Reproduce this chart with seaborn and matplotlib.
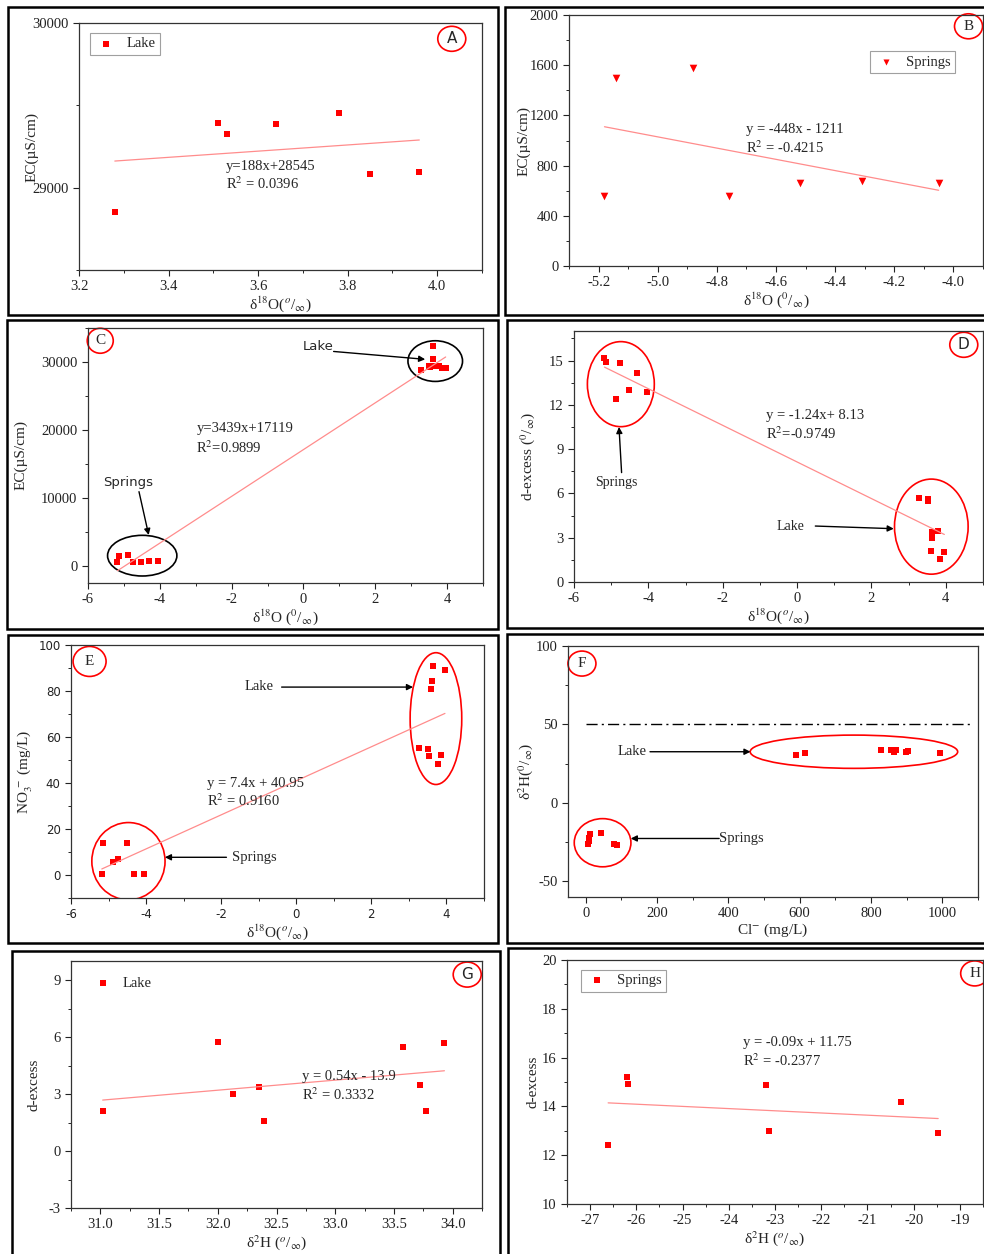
import numpy as np
import matplotlib
matplotlib.use("Agg")
import matplotlib.pyplot as plt
from matplotlib.patches import Ellipse, Rectangle
from matplotlib.ticker import MultipleLocator
import seaborn as sns

# ---- data ----
# lake samples (same order in every array)
lake_d18o = [3.28, 3.51, 3.53, 3.64, 3.78, 3.85, 3.96, 3.62, 3.60]
lake_ec = [28855, 29395, 29325, 29385, 29455, 29085, 29095, 32300, 30500]
lake_dex = [5.71, 5.65, 5.47, 3.00, 3.46, 1.58, 2.06, 3.39, 2.12]
lake_no3 = [55.4, 54.8, 51.9, 90.7, 48.4, 52.3, 89.2, 84.4, 80.7]

# springs samples
spr_d18o = [-5.18, -5.14, -4.88, -4.76, -4.52, -4.31, -4.05]
spr_ec = [555, 1498, 1578, 560, 661, 680, 664]
spr_dex = [15.2, 14.9, 12.4, 14.85, 13.0, 14.16, 12.9]
spr_no3 = [0.6, 14.1, 5.5, 6.8, 13.7, 0.6, 0.6]

# panel F: chloride vs d2H
lake_cl = [589, 616, 829, 857, 864, 871, 897, 904, 994]
lake_d2h_f = [30.7, 32.0, 33.5, 33.5, 32.2, 33.5, 32.2, 33.3, 31.8]
spr_cl = [6, 8, 10, 12, 43, 79, 88]
spr_d2h_f = [-26.1, -24.6, -22.5, -19.8, -19.5, -26.5, -26.9]
gmwl_level = 50

# panel G: lake d2H vs d-excess
lake_d2h = [31.02, 32.00, 32.13, 32.35, 32.39, 33.58, 33.72, 33.77, 33.93]
lake_dex_g = [2.12, 5.73, 2.99, 3.38, 1.58, 5.48, 3.47, 2.08, 5.67]

# panel H: springs d2H vs d-excess
spr_d2h = [-26.61, -26.21, -26.18, -23.19, -23.14, -20.28, -19.47]
spr_dex_h = [12.4, 15.2, 14.91, 14.87, 13.0, 14.17, 12.9]

# regression lines (slope, intercept)
fit_a = (188, 28545)
fit_b = (-448, -1211)
fit_c = (3439, 17119)
fit_d = (-1.24, 8.13)
fit_e = (7.4, 40.95)
fit_g = (0.53, -13.76)
fit_h = (-0.09, 11.75)

# ---- styling ----
sns.set_style("ticks")
plt.rcParams['font.family'] = ['Liberation Serif', 'DejaVu Serif']
plt.rcParams['mathtext.fontset'] = 'stix'
plt.rcParams['axes.unicode_minus'] = False
plt.rcParams['axes.edgecolor'] = '#333333'
plt.rcParams['axes.linewidth'] = 0.9

W, H = 984, 1254
fig = plt.figure(figsize=(W / 100, H / 100), dpi=100)
fig.patch.set_facecolor('white')

RED = '#ff0000'
FIT = '#ff8c8c'
D18O = r'δ$^{18}$O($^{o}$/$_{\infty}$)'
D18O_SP = r'δ$^{18}$O ($^{0}$/$_{\infty}$)'
D2H = r'δ$^{2}$H ($^{o}$/$_{\infty}$)'


def make_axes(l, r, t, b):
    return fig.add_axes([l / W, 1 - b / H, (r - l) / W, (b - t) / H])


def border(x0, y0, x1, y1):
    fig.add_artist(Rectangle((x0 / W, 1 - y1 / H), (x1 - x0) / W, (y1 - y0) / H,
                             transform=fig.transFigure, fill=False, ec='black', lw=1.8))


def style(ax, xlim, ylim, xmaj, xmin, ymaj, ymin, sans=False):
    ax.set_xlim(*xlim)
    ax.set_ylim(*ylim)
    ax.xaxis.set_major_locator(MultipleLocator(xmaj))
    ax.xaxis.set_minor_locator(MultipleLocator(xmin))
    ax.yaxis.set_major_locator(MultipleLocator(ymaj))
    ax.yaxis.set_minor_locator(MultipleLocator(ymin))
    ax.tick_params(which='major', direction='out', length=4, width=0.8, labelsize=10.5, colors='#222222')
    ax.tick_params(which='minor', direction='out', length=2.5, width=0.7)
    for sp in ax.spines.values():
        sp.set_visible(True)
    if sans:
        for lab in ax.get_xticklabels() + ax.get_yticklabels():
            lab.set_family('DejaVu Sans')
            lab.set_fontsize(8.5)


def labels(ax, xlabel, ylabel, ypos):
    ax.set_xlabel(xlabel, fontsize=11, labelpad=1)
    ax.set_ylabel(ylabel, fontsize=11)
    ax.yaxis.set_label_coords(ypos, 0.5)


def fit_line(ax, x, fit):
    xs = np.array([min(x), max(x)])
    sns.lineplot(x=xs, y=fit[0] * xs + fit[1], ax=ax, color=FIT, lw=0.9, legend=False)


def tag(ax, letter, fx, fy, sans=False, w=28, h=25):
    bb = ax.get_position()
    aw, ah = bb.width * W, bb.height * H
    ax.add_patch(Ellipse((fx, fy), w / aw, h / ah, transform=ax.transAxes,
                         fill=False, ec=RED, lw=1.2, clip_on=False))
    ax.text(fx, fy, letter, transform=ax.transAxes, ha='center', va='center',
            fontsize=11, family='DejaVu Sans' if sans else 'Liberation Serif')


def ring(ax, cx, cy, w, h, color=RED):
    ax.add_patch(Ellipse((cx, cy), w, h, fill=False, ec=color, lw=1.2))


def arrow(ax, tail, head):
    ax.annotate('', xy=head, xytext=tail,
                arrowprops=dict(arrowstyle='-|>', color='black', lw=1.0, mutation_scale=9,
                                shrinkA=0, shrinkB=0))


def pts(ax, x, y, marker='s', label=None, s=22):
    sns.scatterplot(x=x, y=y, ax=ax, marker=marker, color=RED, s=s, edgecolor=RED,
                    linewidth=0, label=label, legend=bool(label))


def legend(ax, anchor, loc='upper left', frame=True):
    lg = ax.legend(loc=loc, bbox_to_anchor=anchor, frameon=frame, fancybox=False,
                   edgecolor='#888888', fontsize=10.5, borderpad=0.3,
                   handlelength=1.6, handletextpad=0.6, markerscale=0.8)
    lg.get_frame().set_linewidth(0.8)


# ---- panel borders ----
border(8, 7, 498, 315)
border(505, 7, 985, 315)
border(7, 320, 498, 629)
border(507, 320, 985, 628)
border(8, 635, 498, 943)
border(507, 634, 985, 943)
border(12, 951, 500, 1256)
border(508, 948, 985, 1256)

# ---- A ----
ax = make_axes(79, 482, 23, 270)
pts(ax, lake_d18o[:7], lake_ec[:7], label='Lake')
fit_line(ax, lake_d18o[:7], fit_a)
style(ax, (3.2, 4.1), (28500, 30000), 0.2, 0.1, 1000, 500)
labels(ax, D18O, 'EC(µS/cm)', -0.10)
ax.text(3.528, 29128, 'y=188x+28545', fontsize=10.5, va='center')
ax.text(3.528, 29024, r'R$^{2}$ = 0.0396', fontsize=10.5, va='center')
legend(ax, (0.01, 0.99))
tag(ax, 'A', 0.925, 0.936, sans=True)

# ---- B ----
ax = make_axes(569, 983, 15, 266)
pts(ax, spr_d18o, spr_ec, marker='v', label='Springs', s=30)
fit_line(ax, spr_d18o, fit_b)
style(ax, (-5.3, -3.9), (0, 2000), 0.2, 0.1, 400, 200)
labels(ax, D18O_SP, 'EC(µS/cm)', -0.094)
ax.text(-4.70, 1084, 'y = -448x - 1211', fontsize=10.5, va='center')
ax.text(-4.70, 943, r'R$^{2}$ = -0.4215', fontsize=10.5, va='center')
legend(ax, (0.95, 0.885), loc='upper right')
tag(ax, 'B', 0.965, 0.955)

# ---- C ----
ax = make_axes(88, 483, 328, 583)
pts(ax, spr_d18o + lake_d18o, spr_ec + lake_ec)
fit_line(ax, spr_d18o + lake_d18o, fit_c)
style(ax, (-6, 5), (-2500, 35000), 2, 1, 10000, 5000)
labels(ax, D18O_SP, 'EC(µS/cm)', -0.154)
ax.text(-2.98, 20294, 'y=3439x+17119', fontsize=10.5, va='center')
ax.text(-2.98, 17400, r'R$^{2}$=0.9899', fontsize=10.5, va='center')
ring(ax, 3.67, 30134, 1.52, 5980, color='black')
ring(ax, -4.49, 1520, 1.93, 5980, color='black')
ax.text(0.42, 32255, 'Lake', fontsize=9.5, family='DejaVu Sans', ha='center', va='center')
arrow(ax, (0.84, 31550), (3.39, 30393))
ax.text(-4.88, 12255, 'Springs', fontsize=9.5, family='DejaVu Sans', ha='center', va='center')
arrow(ax, (-4.58, 10930), (-4.31, 4557))
tag(ax, 'C', 0.031, 0.95, w=26, h=25)

# ---- D ----
ax = make_axes(574, 983, 331, 582)
pts(ax, spr_d18o + lake_d18o, spr_dex + lake_dex)
fit_line(ax, spr_d18o + lake_d18o, fit_d)
style(ax, (-6, 5), (0, 17), 2, 1, 3, 1.5)
labels(ax, D18O, r'd-excess ($^{0}$/$_{\infty}$)', -0.09)
ax.text(-0.84, 11.25, 'y = -1.24x+ 8.13', fontsize=10.5, va='center')
ax.text(-0.84, 10.07, r'R$^{2}$=-0.9749', fontsize=10.5, va='center')
ring(ax, -4.74, 13.4, 1.80, 5.76)
ring(ax, 3.61, 3.75, 1.98, 6.44)
ax.text(-4.85, 6.73, 'Springs', fontsize=10, ha='center', va='center')
arrow(ax, (-4.72, 7.41), (-4.79, 10.5))
ax.text(-0.18, 3.79, 'Lake', fontsize=10, ha='center', va='center')
arrow(ax, (0.49, 3.79), (2.60, 3.61))
tag(ax, 'D', 0.953, 0.945, sans=True)

# ---- E ----
ax = make_axes(71, 484, 645, 898)
pts(ax, spr_d18o + lake_d18o, spr_no3 + lake_no3)
fit_line(ax, spr_d18o + lake_d18o, fit_e)
style(ax, (-6, 5), (-10, 100), 2, 1, 20, 10, sans=True)
labels(ax, D18O, r'NO$_{3}^{\ -}$ (mg/L)', -0.087)
ax.text(-2.37, 40.0, 'y = 7.4x + 40.95', fontsize=10.5, va='center')
ax.text(-2.37, 32.4, r'R$^{2}$ = 0.9160', fontsize=10.5, va='center')
ring(ax, 3.72, 68.0, 1.375, 57.3)
ring(ax, -4.47, 6.0, 1.95, 33.6)
ax.text(-1.0, 81.8, 'Lake', fontsize=10.5, ha='center', va='center')
arrow(ax, (-0.39, 81.7), (3.11, 81.7))
ax.text(-1.72, 7.7, 'Springs', fontsize=10.5, ha='left', va='center')
arrow(ax, (-1.86, 7.7), (-3.50, 7.7))
tag(ax, 'E', 0.045, 0.935, w=33, h=30)

# ---- F ----
ax = make_axes(568, 978, 646, 897)
pts(ax, spr_cl + lake_cl, spr_d2h_f + lake_d2h_f)
sns.lineplot(x=[0, 1080], y=[gmwl_level, gmwl_level], ax=ax, color='black', lw=1.0,
             linestyle=(0, (8, 3, 1.5, 3)), legend=False)
style(ax, (-50, 1100), (-60, 100), 200, 100, 50, 25)
labels(ax, r'Cl$^{-}$ (mg/L)', r'δ$^{2}$H($^{0}$/$_{\infty}$)', -0.08)
ring(ax, 752, 32.6, 582, 21.2)
ring(ax, 47, -25.4, 159, 30.7)
ax.text(129, 32.6, 'Lake', fontsize=10.5, ha='center', va='center')
arrow(ax, (180, 32.6), (462, 32.6))
ax.text(374, -22.7, 'Springs', fontsize=10.5, ha='left', va='center')
arrow(ax, (374, -22.7), (126, -22.7))
tag(ax, 'F', 0.034, 0.93)

# ---- G ----
ax = make_axes(71, 482, 961, 1208)
pts(ax, lake_d2h, lake_dex_g, label='Lake')
fit_line(ax, lake_d2h, fit_g)
style(ax, (30.75, 34.25), (-3, 10), 0.5, 0.25, 3, 1.5)
labels(ax, D2H, 'd-excess', -0.075)
ax.text(32.72, 3.9, 'y = 0.54x - 13.9', fontsize=10.5, va='center')
ax.text(32.72, 2.98, r'R$^{2}$ = 0.3332', fontsize=10.5, va='center')
legend(ax, (0.02, 0.985), frame=False)
tag(ax, 'G', 0.964, 0.945, sans=True)

# ---- H ----
ax = make_axes(567, 983, 960, 1204)
pts(ax, spr_d2h, spr_dex_h, label='Springs')
fit_line(ax, spr_d2h, fit_h)
style(ax, (-27.5, -18.5), (10, 20), 1, 0.5, 2, 1)
labels(ax, D2H, 'd-excess', -0.067)
ax.text(-23.70, 16.6, 'y = -0.09x + 11.75', fontsize=10.5, va='center')
ax.text(-23.70, 15.88, r'R$^{2}$ = -0.2377', fontsize=10.5, va='center')
legend(ax, (0.015, 0.99))
tag(ax, 'H', 0.98, 0.945)

fig.savefig('out.png', dpi=100, facecolor='white')
